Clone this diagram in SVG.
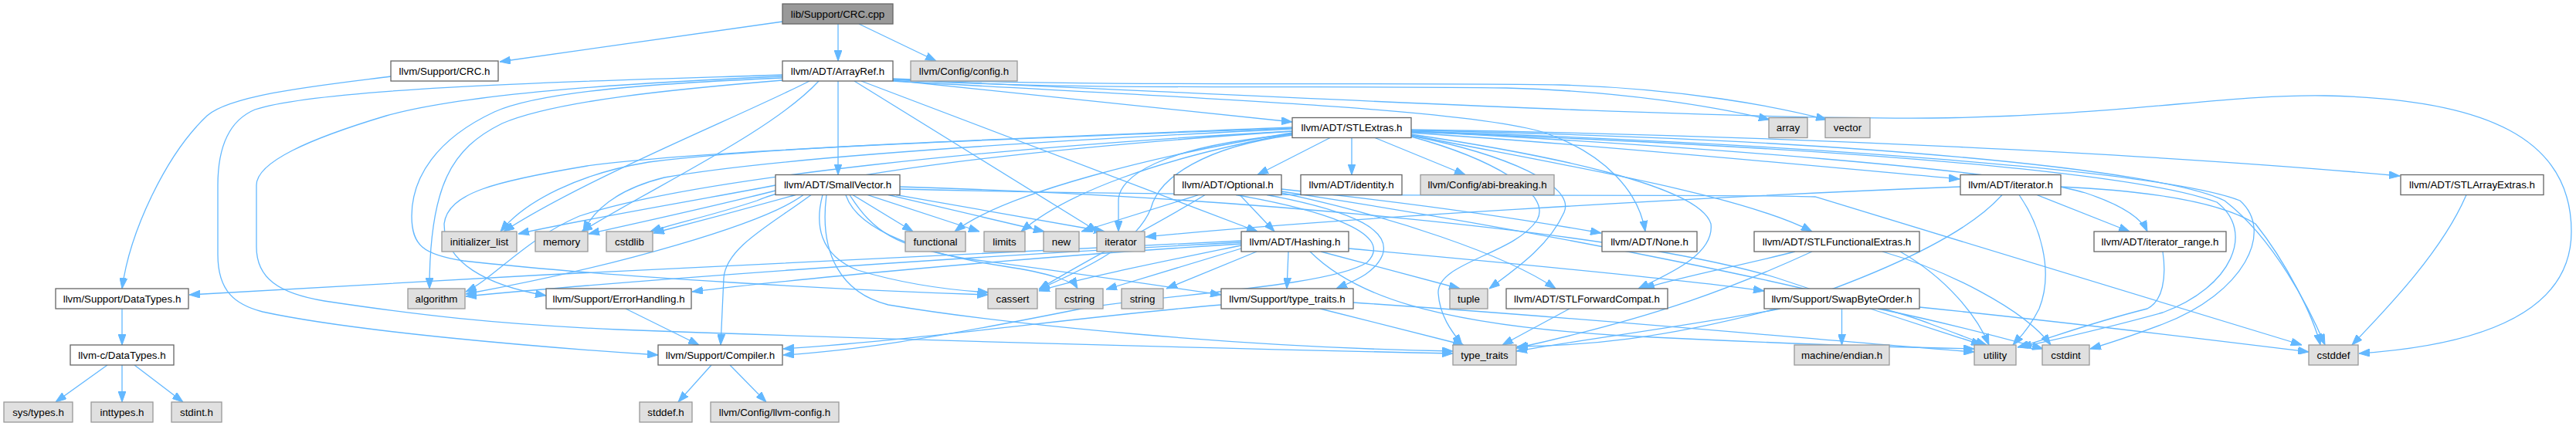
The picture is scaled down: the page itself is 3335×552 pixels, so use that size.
<svg xmlns="http://www.w3.org/2000/svg" width="3335" height="552" viewBox="0 0 3335 552">
<style>
.node rect{fill:#ffffff;stroke:#666666;stroke-width:1.3}
.ext rect{fill:#e0e0e0;stroke:#999999;stroke-width:1.3}
.root rect{fill:#999999;stroke:#666666;stroke-width:1.3}
text{font-family:"Liberation Sans",Arial,Helvetica,sans-serif;font-size:13.33px;fill:#000000;text-anchor:middle}
#edges path{fill:none;stroke:#63b8ff;stroke-width:1.3;marker-end:url(#ah)}
</style>
<defs>
<marker id="ah" markerUnits="userSpaceOnUse" markerWidth="14" markerHeight="10" viewBox="0 0 14 10" refX="14" refY="5" orient="auto">
<path d="M0,0 L14,5 L0,10 z" fill="#63b8ff" stroke="#63b8ff" stroke-width="1"/>
</marker>
</defs>
<rect x="0" y="0" width="3335" height="552" fill="#ffffff"/>
<g id="edges">
<path d="M1013,28 L647,80"/>
<path d="M1085,31 L1085,79"/>
<path d="M1112,31 L1212,79"/>
<path d="M506,99 C420,110 300,122 268,150 C215,200 168,300 158,374"/>
<path d="M1085,105 L1085,226.5"/>
<path d="M1156,104 L1673,158"/>
<path d="M1156,103 C1400,118 1700,110 1950,114 C2100,118 2220,138 2291,155"/>
<path d="M1156,102 C1400,113 1800,106 2020,110 C2180,115 2300,138 2365,155"/>
<path d="M1156,103 C1600,122 2200,155 2500,153 C2750,150 2880,122 3010,124 C3220,128 3329,180 3329,300 C3329,410 3200,448 3054,458"/>
<path d="M1156,105 C1500,125 1900,140 2000,172 C2080,200 2122,250 2130,300"/>
<path d="M1115,105 L1628,300"/>
<path d="M1106,105 L1421,300"/>
<path d="M1013,97 C800,104 420,112 330,142 C292,158 282,200 282,240 L282,330 C282,378 305,395 340,404 C460,430 700,450 852,460"/>
<path d="M1013,101 C850,108 700,118 640,145 C565,180 533,230 533,280 C533,318 548,330 600,338 C800,360 1100,376 1279,382"/>
<path d="M1013,99 C800,108 600,122 500,150 C400,180 332,210 332,240 L332,320 C332,360 360,380 420,390 C540,408 640,420 800,427 C1200,442 1600,452 1881,458"/>
<path d="M1013,104 C880,115 720,130 650,160 C585,192 556,240 556,374"/>
<path d="M1048,105 C960,150 760,230 652,300"/>
<path d="M1060,105 C1000,170 850,240 753,300"/>
<path d="M1004,240 C900,260 750,285 671,303"/>
<path d="M1008,246 C930,266 830,288 762,303"/>
<path d="M1030,252.5 C960,272 900,288 846,302"/>
<path d="M1040,252.5 C990,290 800,345 603,381"/>
<path d="M1050,252.5 C1000,290 940,320 937,360 L933,447"/>
<path d="M1065,252.5 C1055,290 1060,330 1110,350 C1170,368 1230,376 1280,379"/>
<path d="M1095,252.5 C1110,300 1200,330 1300,345 C1360,354 1390,365 1395,374"/>
<path d="M1100,252.5 C1130,300 1160,320 1250,335 C1400,355 1500,370 1581,382"/>
<path d="M1070,252.5 C1060,330 1090,380 1150,395 C1300,420 1600,450 1881,455"/>
<path d="M1104,252.5 L1182,300"/>
<path d="M1123,252.5 L1268,300"/>
<path d="M1150,252.5 L1352,300"/>
<path d="M1160,252.5 L1430,300"/>
<path d="M1165,245 C1700,258 2200,250 2350,255 L2980,447"/>
<path d="M1165,242 C1600,255 2100,300 2300,360 C2450,410 2530,435 2566,447"/>
<path d="M1750,178.5 L1750,226.5"/>
<path d="M1780,178.5 L1897,226.5"/>
<path d="M1722,178.5 L1628,226.5"/>
<path d="M1827,172 C2100,190 2400,220 2537,232"/>
<path d="M1827,168 C2300,175 2800,200 3107,228"/>
<path d="M1827,170 C2200,190 2600,220 2700,250 C2745,265 2772,282 2780,300"/>
<path d="M1827,175 C2000,210 2250,250 2346,300"/>
<path d="M1827,174 C2000,200 2200,240 2215,290 C2220,330 2160,355 2121,374"/>
<path d="M1827,176 C1950,200 2040,240 2025,275 C2005,320 1960,350 1928,374"/>
<path d="M1827,177 C1930,205 2010,250 1990,285 C1960,330 1860,340 1862,380 C1864,410 1880,430 1893,447"/>
<path d="M1827,170 C2300,185 2800,220 2900,260 C2945,300 2905,380 2800,420 C2760,435 2730,445 2706,452"/>
<path d="M1827,171 C2300,188 2750,218 2870,262 C2920,300 2890,372 2800,405 C2710,430 2650,442 2616,450"/>
<path d="M1827,169 C2400,180 2800,220 2880,260 C2945,310 2990,400 3010,447"/>
<path d="M1673,170 C1300,190 900,230 750,280 C680,310 640,360 603,378"/>
<path d="M1673,175 C1560,190 1500,230 1490,270 C1470,320 1400,350 1345,375"/>
<path d="M1673,174 C1500,190 1448,230 1448,260 L1448,300"/>
<path d="M1673,172 C1500,200 1300,250 1236,300"/>
<path d="M1673,173 C1500,205 1380,250 1322,300"/>
<path d="M1673,165 C1300,180 1000,190 840,210 C750,225 680,260 648,300"/>
<path d="M1673,167 C1300,185 1000,205 860,230 C800,245 770,270 755,300"/>
<path d="M1673,170 C1300,195 1050,230 980,260 C920,280 870,290 842,300"/>
<path d="M1673,166 C1300,180 900,195 760,215 C640,235 580,250 575,290 C575,340 630,370 707,383"/>
<path d="M1605,252.5 L1650,300"/>
<path d="M1659,245 C1800,260 1950,280 2073,302"/>
<path d="M1659,250 C1800,280 1950,330 2014,374"/>
<path d="M1600,252.5 C1700,270 1810,300 1770,340 C1720,372 1500,382 1400,400 C1200,440 1100,455 1014,460"/>
<path d="M1640,252.5 C1760,275 1800,300 1790,330 C1780,355 1750,365 1730,374"/>
<path d="M1560,252.5 C1500,290 1400,340 1345,375"/>
<path d="M1552,252.5 L1400,300"/>
<path d="M1659,248 C2000,300 2400,380 2500,420 C2540,435 2560,443 2572,447"/>
<path d="M1668,326 L1666,374"/>
<path d="M1627,326 L1510,374"/>
<path d="M1607,322 L1432,375"/>
<path d="M1607,318 C1500,340 1400,360 1345,377"/>
<path d="M1710,326 L1890,374"/>
<path d="M1746,322 C2000,345 2200,365 2284,377"/>
<path d="M1696,326 C1750,380 1850,420 2100,435 C2300,445 2450,450 2556,452"/>
<path d="M1607,316 C1300,335 1000,365 896,378"/>
<path d="M1607,312 C1200,330 700,355 245,382"/>
<path d="M1607,314 C1200,335 800,365 603,384"/>
<path d="M1581,395 C1400,410 1200,440 1014,452"/>
<path d="M1709,400 L1895,447"/>
<path d="M1752,392 C2100,415 2400,445 2556,456"/>
<path d="M810,400 L905,447"/>
<path d="M158,400 L158,447"/>
<path d="M139,473 L72,521"/>
<path d="M158,473 L158,521"/>
<path d="M174,473 L237,521"/>
<path d="M921,473 L878,521"/>
<path d="M945,473 L992,521"/>
<path d="M2032,400 L1945,447"/>
<path d="M2324,326 C2250,345 2170,360 2128,374"/>
<path d="M2346,326 C2250,370 2150,410 1963,451"/>
<path d="M2437,326 C2520,350 2620,400 2655,447"/>
<path d="M2460,326 C2520,360 2560,410 2575,447"/>
<path d="M2384.5,400 L2384.5,447"/>
<path d="M2305,400 C2200,420 2050,440 1963,455"/>
<path d="M2485,398 C2700,420 2900,445 2989,456"/>
<path d="M2431,400 C2530,420 2600,440 2645,452"/>
<path d="M2637,252.5 L2757,300"/>
<path d="M2538,242 C2200,255 1700,285 1483,307"/>
<path d="M2592,252.5 C2550,300 2450,350 2300,400 C2150,440 2050,448 1964,449"/>
<path d="M2614,252.5 C2640,290 2660,350 2640,400 C2625,430 2612,440 2606,447"/>
<path d="M2668,242 C2800,248 2880,265 2920,290 C2960,340 2995,410 3004,447"/>
<path d="M2800,326 C2805,360 2800,390 2780,400 C2700,420 2650,440 2612,450"/>
<path d="M3193,252.5 C3160,330 3080,410 3045,447"/>
</g>
<g id="n_crc_cpp" class="root"><rect x="1013" y="5" width="143" height="26"/><text x="1084.5" y="22.5">lib/Support/CRC.cpp</text></g>
<g id="n_crc_h" class="node"><rect x="506" y="79" width="139" height="26"/><text x="575.5" y="96.5">llvm/Support/CRC.h</text></g>
<g id="n_arrayref" class="node"><rect x="1013" y="79" width="143" height="26"/><text x="1084.5" y="96.5">llvm/ADT/ArrayRef.h</text></g>
<g id="n_config" class="ext"><rect x="1179" y="79" width="138" height="26"/><text x="1248" y="96.5">llvm/Config/config.h</text></g>
<g id="n_stlextras" class="node"><rect x="1673" y="152.5" width="154" height="26"/><text x="1750" y="170">llvm/ADT/STLExtras.h</text></g>
<g id="n_array" class="ext"><rect x="2290" y="152.5" width="50" height="26"/><text x="2315" y="170">array</text></g>
<g id="n_vector" class="ext"><rect x="2363" y="152.5" width="58" height="26"/><text x="2392" y="170">vector</text></g>
<g id="n_smallvector" class="node"><rect x="1004" y="226.5" width="161" height="26"/><text x="1084.5" y="244">llvm/ADT/SmallVector.h</text></g>
<g id="n_optional" class="node"><rect x="1520" y="226.5" width="139" height="26"/><text x="1589.5" y="244">llvm/ADT/Optional.h</text></g>
<g id="n_identity" class="node"><rect x="1684" y="226.5" width="131" height="26"/><text x="1749.5" y="244">llvm/ADT/identity.h</text></g>
<g id="n_abi" class="ext"><rect x="1839" y="226.5" width="173" height="26"/><text x="1925.5" y="244">llvm/Config/abi-breaking.h</text></g>
<g id="n_iterator_h" class="node"><rect x="2538" y="226.5" width="130" height="26"/><text x="2603" y="244">llvm/ADT/iterator.h</text></g>
<g id="n_stlarrayextras" class="node"><rect x="3108" y="226.5" width="185" height="26"/><text x="3200.5" y="244">llvm/ADT/STLArrayExtras.h</text></g>
<g id="n_initializer_list" class="ext"><rect x="572" y="300" width="97" height="26"/><text x="620.5" y="317.5">initializer_list</text></g>
<g id="n_memory" class="ext"><rect x="693" y="300" width="68" height="26"/><text x="727" y="317.5">memory</text></g>
<g id="n_cstdlib" class="ext"><rect x="785" y="300" width="60" height="26"/><text x="815" y="317.5">cstdlib</text></g>
<g id="n_functional" class="ext"><rect x="1172" y="300" width="78" height="26"/><text x="1211" y="317.5">functional</text></g>
<g id="n_limits" class="ext"><rect x="1274" y="300" width="53" height="26"/><text x="1300.5" y="317.5">limits</text></g>
<g id="n_new" class="ext"><rect x="1351" y="300" width="46" height="26"/><text x="1374" y="317.5">new</text></g>
<g id="n_iterator" class="ext"><rect x="1420" y="300" width="62" height="26"/><text x="1451" y="317.5">iterator</text></g>
<g id="n_hashing" class="node"><rect x="1607" y="300" width="139" height="26"/><text x="1676.5" y="317.5">llvm/ADT/Hashing.h</text></g>
<g id="n_none" class="node"><rect x="2074" y="300" width="123" height="26"/><text x="2135.5" y="317.5">llvm/ADT/None.h</text></g>
<g id="n_stlfunctionalextras" class="node"><rect x="2271" y="300" width="214" height="26"/><text x="2378" y="317.5">llvm/ADT/STLFunctionalExtras.h</text></g>
<g id="n_iterator_range" class="node"><rect x="2711" y="300" width="171" height="26"/><text x="2796.5" y="317.5">llvm/ADT/iterator_range.h</text></g>
<g id="n_datatypes" class="node"><rect x="72" y="374" width="172" height="26"/><text x="158" y="391.5">llvm/Support/DataTypes.h</text></g>
<g id="n_algorithm" class="ext"><rect x="528" y="374" width="74" height="26"/><text x="565" y="391.5">algorithm</text></g>
<g id="n_errorhandling" class="node"><rect x="707" y="374" width="188" height="26"/><text x="801" y="391.5">llvm/Support/ErrorHandling.h</text></g>
<g id="n_cassert" class="ext"><rect x="1279" y="374" width="64" height="26"/><text x="1311" y="391.5">cassert</text></g>
<g id="n_cstring" class="ext"><rect x="1367" y="374" width="61" height="26"/><text x="1397.5" y="391.5">cstring</text></g>
<g id="n_string" class="ext"><rect x="1452" y="374" width="54" height="26"/><text x="1479" y="391.5">string</text></g>
<g id="n_type_traits_h" class="node"><rect x="1581" y="374" width="171" height="26"/><text x="1666.5" y="391.5">llvm/Support/type_traits.h</text></g>
<g id="n_tuple" class="ext"><rect x="1877" y="374" width="49" height="26"/><text x="1901.5" y="391.5">tuple</text></g>
<g id="n_stlforwardcompat" class="node"><rect x="1950" y="374" width="209" height="26"/><text x="2054.5" y="391.5">llvm/ADT/STLForwardCompat.h</text></g>
<g id="n_swapbyteorder" class="node"><rect x="2284" y="374" width="201" height="26"/><text x="2384.5" y="391.5">llvm/Support/SwapByteOrder.h</text></g>
<g id="n_c_datatypes" class="node"><rect x="91" y="447" width="134" height="26"/><text x="158" y="464.5">llvm-c/DataTypes.h</text></g>
<g id="n_compiler" class="node"><rect x="852" y="447" width="161" height="26"/><text x="932.5" y="464.5">llvm/Support/Compiler.h</text></g>
<g id="n_type_traits" class="ext"><rect x="1881" y="447" width="82" height="26"/><text x="1922" y="464.5">type_traits</text></g>
<g id="n_endian" class="ext"><rect x="2323" y="447" width="123" height="26"/><text x="2384.5" y="464.5">machine/endian.h</text></g>
<g id="n_utility" class="ext"><rect x="2556" y="447" width="54" height="26"/><text x="2583" y="464.5">utility</text></g>
<g id="n_cstdint" class="ext"><rect x="2644" y="447" width="61" height="26"/><text x="2674.5" y="464.5">cstdint</text></g>
<g id="n_cstddef" class="ext"><rect x="2989" y="447" width="64" height="26"/><text x="3021" y="464.5">cstddef</text></g>
<g id="n_systypes" class="ext"><rect x="5" y="521" width="89" height="26"/><text x="49.5" y="538.5">sys/types.h</text></g>
<g id="n_inttypes" class="ext"><rect x="118" y="521" width="80" height="26"/><text x="158" y="538.5">inttypes.h</text></g>
<g id="n_stdint" class="ext"><rect x="222" y="521" width="65" height="26"/><text x="254.5" y="538.5">stdint.h</text></g>
<g id="n_stddef" class="ext"><rect x="828" y="521" width="68" height="26"/><text x="862" y="538.5">stddef.h</text></g>
<g id="n_llvm_config" class="ext"><rect x="920" y="521" width="166" height="26"/><text x="1003" y="538.5">llvm/Config/llvm-config.h</text></g>
</svg>
